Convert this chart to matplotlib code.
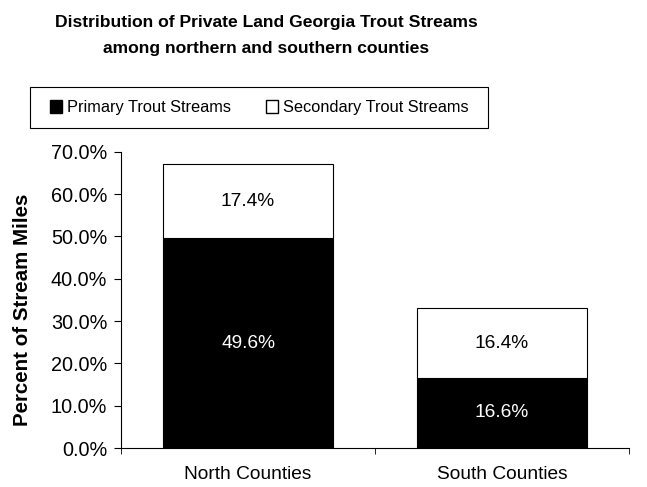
import numpy as np
import matplotlib
matplotlib.use("Agg")
from matplotlib import pyplot as plt
from matplotlib.patches import Patch, Rectangle

plt.rcParams['font.family'] = ['Liberation Sans', 'DejaVu Sans']

counties = ["North Counties", "South Counties"]
primary = [49.6, 16.6]
secondary = [17.4, 16.4]
series_names = ["Primary Trout Streams", "Secondary Trout Streams"]
yticks = [0, 10, 20, 30, 40, 50, 60, 70]

fig = plt.figure(figsize=(6.47, 4.87), dpi=100)
ax = fig.add_axes([121/647, 1-448/487, 508/647, (448-151.7)/487])

x = np.arange(len(counties))
w = 0.67
ax.bar(x, primary, w, color="black", edgecolor="black", linewidth=0.8)
ax.bar(x, secondary, w, bottom=primary, color="white", edgecolor="black", linewidth=0.8)

for i in range(len(counties)):
    ax.text(x[i], primary[i]/2, f"{primary[i]:.1f}%", ha="center", va="center",
            color="white", fontsize=13.8)
    ax.text(x[i], primary[i] + secondary[i]/2, f"{secondary[i]:.1f}%", ha="center",
            va="center", color="black", fontsize=13.8)

ax.set_xlim(-0.5, 1.5)
ax.set_ylim(0, 70)
ax.set_yticks(yticks)
ax.set_yticklabels([f"{v:.1f}%" for v in yticks], fontsize=14.3)
ax.set_xticks(x)
ax.set_xticklabels(counties, fontsize=13.8)
ax.tick_params(axis="x", length=0, pad=13)
ax.set_xticks([-0.5, 0.5, 1.5], minor=True)
ax.tick_params(axis="x", which="minor", length=4, direction="out")
ax.tick_params(axis="y", length=5, direction="out", pad=5)
ax.spines["top"].set_visible(False)
ax.spines["right"].set_visible(False)
ax.set_ylabel("Percent of Stream Miles", fontsize=14.8, fontweight="bold")
ax.yaxis.set_label_coords(-0.176, 0.466)

fig.text(266/647, 1-22.5/487, "Distribution of Private Land Georgia Trout Streams",
         ha="center", va="center", fontsize=12.6, fontweight="bold")
fig.text(266/647, 1-48/487, "among northern and southern counties",
         ha="center", va="center", fontsize=12.6, fontweight="bold")

# legend box drawn separately so its padding can be set per side
fig.patches.append(Rectangle((30/647, 1-128/487), 458/647, 41/487,
                             transform=fig.transFigure, fill=False,
                             edgecolor="black", linewidth=0.8))
handles = [Patch(facecolor="black", edgecolor="black"),
           Patch(facecolor="white", edgecolor="black")]
fig.legend(handles, series_names, loc="center left",
           bbox_to_anchor=(42/647, 1-107.5/487), ncol=2, frameon=False,
           fontsize=11.8, handlelength=0.75, handleheight=0.85,
           handletextpad=0.3, columnspacing=2.1, borderpad=0)

fig.savefig("out.png", dpi=100)
